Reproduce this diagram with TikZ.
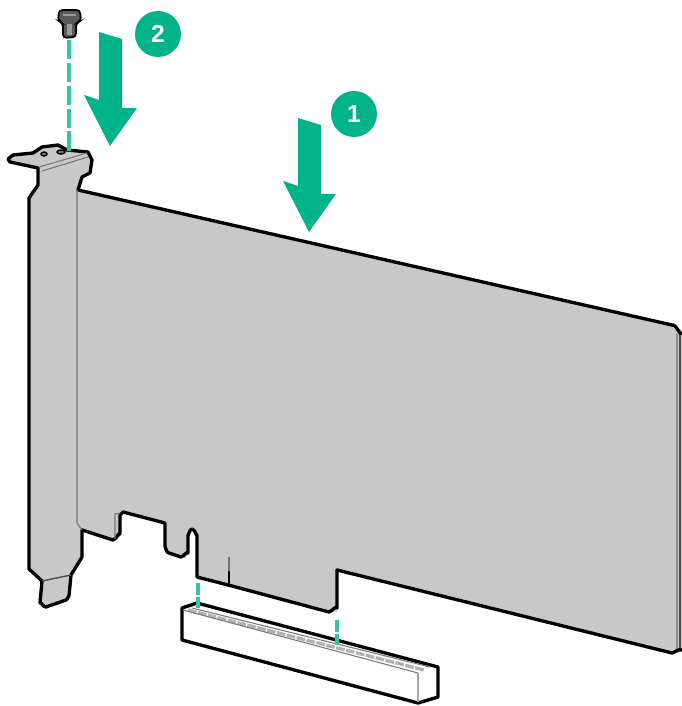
\documentclass[tikz,border=0pt]{standalone}
\usepackage{fontspec}
\setsansfont{Liberation Sans}
\definecolor{hpegreen}{RGB}{1,179,136}
\definecolor{guideteal}{RGB}{55,195,165}
\definecolor{cardgrey}{RGB}{200,200,200}
\definecolor{edgegrey}{RGB}{120,120,120}
\begin{document}
\begin{tikzpicture}[
    x=0.02cm, y=-0.02cm,
    outline/.style={draw=black, line width=1.9pt, line join=round, line cap=round},
    fold/.style={draw=edgegrey, line width=0.6pt},
    guide/.style={draw=guideteal, line width=1.9pt, dash pattern=on 11pt off 2pt},
    badge/.style={circle, fill=hpegreen, inner sep=0pt, minimum size=0.92cm,
                  text=white, font=\sffamily\bfseries\fontsize{14}{14}\selectfont}
]
\useasboundingbox (0,0) rectangle (682,706);
\clip (0,0) rectangle (682,706);
% riser card
\fill[cardgrey] (77,190) -- (675,325) -- (682,331) -- (682,650) -- (672,653) -- (337,570)
    -- (337,612) -- (232,586) -- (197,578) -- (197,535) -- (192,529) -- (188,535)
    -- (188,555) -- (185,558) -- (166,552) -- (165,523) -- (120,511) -- (120,537)
    -- (115,541) -- (82,530) -- (77,523) -- cycle;
\draw[fold, draw=black!45, line width=0.9pt] (677,334) -- (677,650);
\draw[fold, draw=black!70, line width=0.9pt] (680,333) -- (680,651);
\draw[outline] (78,190) -- (672,325) to[out=15,in=-90] (681,333);
\draw[outline] (682,650) to[out=160,in=15] (672,653) -- (337,570) -- (337,608)
    to[out=90,in=15] (329,612) -- (232,586) -- (197,577) -- (197,535)
    to[out=-90,in=0] (192,529) to[out=180,in=-90] (188,535) -- (188,553)
    to[out=90,in=15] (181,557) -- (169,553) to[out=195,in=90] (165,547) -- (165,523)
    -- (123,512) to[out=195,in=-90] (120,515) -- (120,534)
    to[out=90,in=15] (113,540) -- (82,530);
\draw[fold] (120,513) -- (115,514) -- (115,539);
\draw[draw=black!55, line width=1.2pt] (229,557) -- (229,572);
\draw[outline, line width=1.6pt] (229,572) -- (229,585);
% bracket
\fill[cardgrey] (8,159) -- (13,155) -- (33,153) -- (42,147) -- (58,145) -- (67,150)
    -- (88,152) -- (92,160) -- (90,173) -- (82,177) -- (78,190) -- (82,530) -- (82,557)
    -- (71,575) -- (69,598) -- (46,607) -- (40,605) -- (42,581) -- (29,569) -- (29,198)
    -- (38,185) -- (38,168) -- (10,162) -- cycle;
\draw[outline] (78,190) -- (82,177) -- (90,173) -- (92,160) -- (88,152) -- (67,150)
    -- (58,145) -- (42,147) -- (33,153) -- (13,155) -- (8,159) -- (10,162) -- (38,168)
    -- (38,185) -- (29,198) -- (29,569) -- (42,581) -- (40,603) to[out=90,in=190] (46,607)
    -- (66,600) to[out=15,in=90] (69,596) -- (71,575) -- (82,557) -- (82,530);
\draw[fold] (77,190) -- (77,523) -- (82,530);
\draw[fold] (39,167) -- (87,153);
\draw[fold] (42,171) -- (88,157);
\draw[fold, draw=black!70, line width=0.8pt] (42,581) -- (71,575);
\draw[line width=0.8pt, fill=edgegrey] (44,154) ellipse (3 and 2);
\draw[line width=0.8pt, fill=edgegrey] (61,152) ellipse (4 and 2);
% screw
\filldraw[draw=black, line width=1pt, fill=black!65, rounded corners=2pt]
    (59,10) -- (80,10) -- (81,21) -- (76,23) -- (76,37) -- (63,38) -- (63,23) -- (58,21) -- cycle;
\fill[black!40] (67,24) rectangle (72,35);
\fill[black!40] (63,14) rectangle (76,16);
% connector
\filldraw[fill=white, outline] (182,608) -- (197,603) -- (438,667) -- (438,697) -- (418,703)
    -- (182,640) -- cycle;
\draw[draw=black!30, line width=1.9pt, dash pattern=on 5pt off 0.8pt] (188,610) -- (424,670);
\draw[fold] (183,610) -- (418,673);
\draw[fold] (192,608) -- (430,667);
\draw[draw=black!35, line width=1.1pt] (418,673) -- (418,702);
% guide lines
\coordinate (screwtip) at (69,40);
\coordinate (bracketslot) at (69,153);
\coordinate (cardlow) at (198,583);
\coordinate (slotlow) at (198,608);
\coordinate (cardtip) at (337,620);
\coordinate (slottip) at (337,645);
\draw[guide] (screwtip) -- (bracketslot);
\draw[guide, dash pattern=on 7pt off 1.2pt] (cardlow) -- (slotlow);
\draw[guide, dash pattern=on 7pt off 1.2pt] (cardtip) -- (slottip);
% arrows
\foreach \dx/\dy in {0/0,199/86}{
    \fill[hpegreen, shift={(\dx,\dy)}] (99,32) -- (122,39) -- (122,108) -- (137,108)
        -- (110,146) -- (84,95) -- (99,100) -- cycle;
}
% badges
\foreach \n/\x/\y in {1/354/114,2/158/34}{
    \node[badge] (B\n) at (\x,\y) {\n};
}
\end{tikzpicture}
\end{document}
